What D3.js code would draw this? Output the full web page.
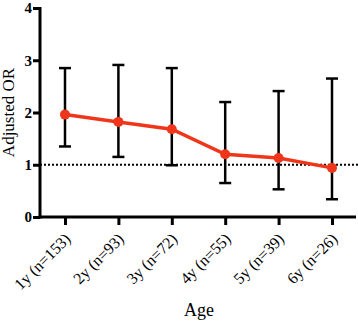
<!DOCTYPE html>
<html lang="en">
  <head>
    <meta charset="UTF-8" />
    <title>Adjusted OR by Age</title>
    <style>
      body { margin: 0; background: #fff; }
    </style>
  </head>
  <body>
    <div class="chart"></div>
    <script src="https://cdn.jsdelivr.net/npm/d3@7"></script>
    <script>
    var ages = ["1y (n=153)", "2y (n=93)", "3y (n=72)", "4y (n=55)", "5y (n=39)", "6y (n=26)"];
    var orValues = [1.96, 1.82, 1.68, 1.20, 1.13, 0.94];
    var ciLower = [1.35, 1.15, 0.99, 0.65, 0.53, 0.34];
    var ciUpper = [2.85, 2.91, 2.85, 2.20, 2.41, 2.65];
    var yTicks = [0, 1, 2, 3, 4];

    var w = 358, h = 321;
    var serif = "'Liberation Serif', 'Times New Roman', serif";
    var red = "#f0361a";

    var svg = d3.select(".chart").append("svg")
                .attr("width", w)
                .attr("height", h);

    var x = d3.scalePoint()
              .domain(ages)
              .range([65, 332]);

    var y = d3.scaleLinear()
              .domain([0, 4])
              .range([217, 8]);

    var data = ages.map(function(a, i) {
      return { age: a, or: orValues[i], lo: ciLower[i], hi: ciUpper[i] };
    });

    // reference line at OR = 1
    svg.append("line")
       .attr("x1", 40)
       .attr("x2", 358)
       .attr("y1", y(1))
       .attr("y2", y(1))
       .attr("stroke", "#000")
       .attr("stroke-width", 2)
       .attr("stroke-dasharray", "2,2");

    // error bars
    var err = svg.selectAll("g.err")
                 .data(data)
                 .enter().append("g")
                 .attr("class", "err");

    err.append("line")
       .attr("x1", function(d) { return x(d.age); })
       .attr("x2", function(d) { return x(d.age); })
       .attr("y1", function(d) { return y(d.lo); })
       .attr("y2", function(d) { return y(d.hi); })
       .attr("stroke", "#000")
       .attr("stroke-width", 2.5);

    ["lo", "hi"].forEach(function(k) {
      err.append("line")
         .attr("x1", function(d) { return x(d.age) - 6; })
         .attr("x2", function(d) { return x(d.age) + 6; })
         .attr("y1", function(d) { return y(d[k]); })
         .attr("y2", function(d) { return y(d[k]); })
         .attr("stroke", "#000")
         .attr("stroke-width", 2.5);
    });

    // red line + points
    var line = d3.line()
                 .x(function(d) { return x(d.age); })
                 .y(function(d) { return y(d.or); });

    svg.append("path")
       .datum(data)
       .attr("d", line)
       .attr("fill", "none")
       .attr("stroke", red)
       .attr("stroke-width", 3.5);

    svg.selectAll("circle.pt")
       .data(data)
       .enter().append("circle")
       .attr("class", "pt")
       .attr("cx", function(d) { return x(d.age); })
       .attr("cy", function(d) { return y(d.or); })
       .attr("r", 5)
       .attr("fill", red);

    // axes
    var yAxis = d3.axisLeft(y)
                  .tickValues(yTicks)
                  .tickSize(7)
                  .tickPadding(1)
                  .tickFormat(d3.format("d"));

    var gy = svg.append("g")
                .attr("transform", "translate(40,0)")
                .call(yAxis);
    gy.select(".domain").attr("stroke-width", 3).attr("d", "M0," + (y(4) - 1) + "V" + (y(0) + 1.5));
    gy.selectAll(".tick line").attr("stroke-width", 3);
    gy.selectAll(".tick text")
      .attr("fill", "#000")
      .style("font-family", serif)
      .style("font-size", "15px")
      .style("font-weight", "bold");

    var xAxis = d3.axisBottom(x)
                  .tickSize(8)
                  .tickPadding(4);

    var gx = svg.append("g")
                .attr("transform", "translate(0," + y(0) + ")")
                .call(xAxis);
    gx.select(".domain").attr("stroke-width", 3).attr("d", "M38.5,0H356");
    gx.selectAll(".tick line").attr("stroke-width", 3);
    gx.selectAll(".tick text")
      .attr("fill", "#000")
      .style("font-family", serif)
      .style("font-size", "16px")
      .attr("text-anchor", "end")
      .attr("x", 0)
      .attr("y", 0)
      .attr("dy", "0.35em")
      .attr("transform", "translate(2,19) rotate(-45)");

    // axis titles
    svg.append("text")
       .attr("transform", "translate(14," + y(2) + ") rotate(-90)")
       .attr("text-anchor", "middle")
       .style("font-family", serif)
       .style("font-size", "17px")
       .text("Adjusted OR");

    svg.append("text")
       .attr("x", 199)
       .attr("y", 316)
       .attr("text-anchor", "middle")
       .style("font-family", serif)
       .style("font-size", "18px")
       .text("Age");
    </script>
  </body>
</html>
